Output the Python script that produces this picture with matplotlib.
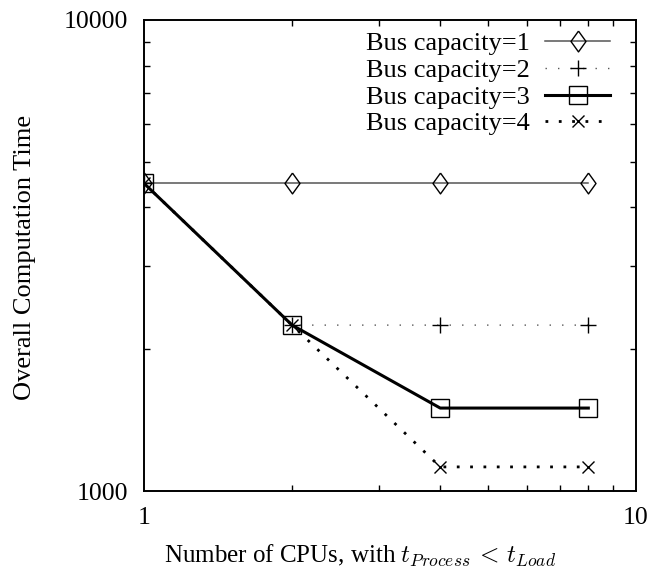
import matplotlib
matplotlib.use("Agg")
import matplotlib.pyplot as plt
from matplotlib.ticker import FixedLocator, NullFormatter, FixedFormatter

plt.rcParams['font.family'] = ['Liberation Serif', 'DejaVu Serif']
plt.rcParams['mathtext.fontset'] = 'cm'

cpus = [1, 2, 4, 8]
bus1 = [4500, 4500, 4500, 4500]
bus2 = [4500, 2250, 2250, 2250]
bus3 = [4500, 2250, 1500, 1500]
bus4 = [4500, 2250, 1125, 1125]
labels = ["Bus capacity=1", "Bus capacity=2", "Bus capacity=3", "Bus capacity=4"]
xticks_major = [1, 10]
xticks_minor = [2, 3, 4, 5, 6, 7, 8, 9]
yticks_major = [1000, 10000]
yticks_minor = [2000, 3000, 4000, 5000, 6000, 7000, 8000, 9000]

W, H = 672, 572
L, R, T, B = 144, 636, 20, 491

fig = plt.figure(figsize=(W / 100, H / 100), dpi=100)
ax = fig.add_axes([L / W, (H - B) / H, (R - L) / W, (B - T) / H])
ax.set_xscale('log')
ax.set_yscale('log')

diamond = [(0, 1), (0.72, 0), (0, -1), (-0.72, 0), (0, 1)]

ax.plot(cpus, bus1, color='#555555', lw=1.1, ls='-', marker=diamond, ms=15,
        mfc='none', mec='black', mew=1.0, label=labels[0])
ax.plot(cpus, bus2, color='#555555', lw=1.0, ls=(0, (1, 8)), marker='+', ms=11,
        mec='black', mew=1.0, label=labels[1])
ax.plot(cpus, bus3, color='black', lw=2.2, ls='-', marker='s', ms=12.3,
        mfc='none', mec='black', mew=1.0, label=labels[2])
ax.plot(cpus, bus4, color='black', lw=2.0, ls=(0, (1, 3.8)), marker='x', ms=9,
        mec='black', mew=1.0, label=labels[3])

ax.set_xlim(1, 10)
ax.set_ylim(1000, 10000)

ax.xaxis.set_major_locator(FixedLocator(xticks_major))
ax.xaxis.set_major_formatter(FixedFormatter([str(v) for v in xticks_major]))
ax.xaxis.set_minor_locator(FixedLocator(xticks_minor))
ax.xaxis.set_minor_formatter(NullFormatter())
ax.yaxis.set_major_locator(FixedLocator(yticks_major))
ax.yaxis.set_major_formatter(FixedFormatter([str(v) for v in yticks_major]))
ax.yaxis.set_minor_locator(FixedLocator(yticks_minor))
ax.yaxis.set_minor_formatter(NullFormatter())

ax.tick_params(which='both', direction='in', top=True, right=True,
               labelsize=18.5, width=1.0, color='black')
ax.tick_params(which='major', length=0, pad=11.5)
ax.tick_params(which='minor', length=4.5)
for s in ax.spines.values():
    s.set_linewidth(1.4)

fig.text(360 / W, 1 - 563 / H, r"Number of CPUs, with $t_{Process}\, <\, t_{Load}$",
         fontsize=18, ha='center', va='baseline')
fig.text(25 / W, 1 - 257 / H, "Overall Computation Time", fontsize=19,
         rotation=90, ha='center', va='center')

ax.legend(loc='upper right', frameon=False, markerfirst=False, fontsize=19,
          bbox_to_anchor=((610 - L) / (R - L), (B - 32) / (B - T)),
          borderaxespad=0, borderpad=0,
          handlelength=2.46, labelspacing=0.12, handletextpad=0.57)

fig.savefig("out.png", dpi=100)
